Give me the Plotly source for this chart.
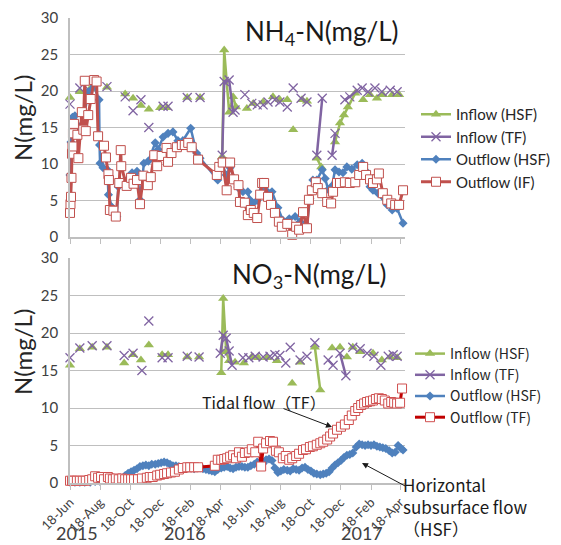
import pandas as pd
import plotly.graph_objects as go

START = pd.Timestamp("2015-06-18")   # day 0 of the monitoring record
END_DAY = 680

# ---------------- NH4-N ----------------
nh4_in_hsf_day = [0, 20, 41, 75, 112, 128, 144, 160, 183, 197, 238, 264,
                  309, 313, 323, 331, 337,
                  359, 372, 392, 412, 426, 441, 453, 471, 481,
                  501, 510,
                  538, 548, 556, 564, 579,
                  595, 609, 623, 635, 654, 668]
nh4_in_hsf = [19.1, 19.9, 20.3, 20.5, 19.6, 19.0, 18.0, 17.5, 17.7, 17.7, 19.1, 19.1,
              11.0, 25.6, 17.1, 19.2, 17.8,
              17.6, 18.3, 18.5, 19.2, 18.8, 18.8, 14.7, 18.8, 18.6,
              10.8, 9.6,
              13.0, 15.6, 16.7, 17.8, 19.7,
              18.8, 19.5, 19.0, 19.5, 19.5, 19.5]
nh4_in_hsf_runs = [(309, 337), (501, 510), (538, 579)]

nh4_in_tf_day = [0, 20, 37, 75, 112, 128, 144, 160, 189, 199, 238, 264,
                 309, 313, 323, 331, 335,
                 355, 369, 380, 392, 402, 416, 426, 441, 453, 469, 481,
                 501, 512,
                 532, 538,
                 558, 568, 583,
                 593, 605, 619, 633, 650, 664]
nh4_in_tf = [18.2, 20.4, 20.2, 20.6, 19.2, 17.3, 18.8, 15.0, 17.9, 17.9, 19.1, 19.1,
             11.2, 21.3, 21.5, 17.1, 17.4,
             19.5, 18.3, 18.1, 18.1, 18.5, 18.8, 18.5, 17.8, 20.4, 19.0, 18.5,
             11.2, 19.0,
             11.2, 14.2,
             18.8, 19.2, 20.1,
             20.4, 19.9, 20.4, 19.9, 20.1, 19.9]
nh4_in_tf_runs = [(309, 335), (501, 512), (532, 538), (558, 583)]

nh4_out_hsf_day = [0, 2, 5, 10, 20, 26, 37, 47, 59, 60, 61, 67, 76, 78, 85, 95, 98,
                   106, 116, 126, 136, 142, 150, 159, 173, 179, 189, 199, 209, 219,
                   229, 245, 257, 264, 298, 300, 309, 317, 325, 333, 341, 351, 361,
                   365, 371, 380, 390, 396, 410, 422, 432, 445, 457, 467, 481, 487,
                   493, 501, 512, 518, 524, 532, 538, 546, 554, 562, 572, 583, 593,
                   601, 609, 615, 625, 635, 644, 654, 664, 676]
nh4_out_hsf = [8.5, 13.0, 16.4, 16.6, 14.7, 15.5, 19.9, 21.0, 18.8, 12.6, 10.1, 9.5,
               9.2, 5.8, 4.1, 2.8, 6.9, 7.5, 7.8, 8.8, 9.0, 5.1, 10.1, 10.4, 12.9,
               12.0, 13.7, 14.2, 14.4, 13.2, 13.2, 14.9, 11.5, 10.8, 8.0, 7.8, 10.0,
               8.5, 9.5, 8.0, 6.8, 6.2, 6.2, 5.1, 4.6, 5.0, 7.5, 6.5, 6.2, 4.0, 2.3,
               2.5, 2.8, 2.1, 1.6, 5.3, 7.8, 7.8, 9.2, 8.0, 6.5, 7.0, 9.2, 8.9, 8.8,
               9.6, 9.3, 9.9, 10.1, 9.0, 6.9, 6.4, 6.0, 5.5, 4.4, 3.7, 3.9, 1.9]

nh4_out_tf_day = [0, 1, 2, 3, 4, 5, 6, 8, 15, 17, 24, 27, 30, 32, 37, 42, 49, 54, 57,
                  69, 73, 78, 79, 81, 88, 93, 100, 103, 104, 115, 124, 129, 136, 142,
                  149, 158, 164, 171, 177, 186, 196, 199, 206, 217, 227, 233, 240,
                  247, 260, 298, 303, 310, 318, 325, 333, 342, 345, 355, 361, 367,
                  373, 380, 386, 390, 394, 402, 408, 416, 424, 430, 441, 451, 459,
                  465, 473, 481, 485, 491, 499, 503, 512, 522, 530, 534, 542, 548,
                  558, 568, 579, 587, 595, 601, 609, 615, 623, 627, 635, 644, 652,
                  660, 668, 676]
nh4_out_tf = [3.3, 4.5, 5.5, 8.1, 11.4, 12.4, 14.2, 15.5, 14.0, 10.8, 17.1, 14.7, 21.4,
              14.5, 16.7, 18.9, 21.5, 21.3, 13.8, 12.5, 10.9, 8.6, 7.8, 3.7, 3.6, 2.8,
              7.4, 11.9, 9.7, 7.0, 8.1, 7.3, 7.8, 4.5, 8.4, 7.1, 8.2, 11.2, 9.7, 11.1,
              12.2, 10.3, 11.5, 12.3, 12.6, 12.6, 12.9, 12.3, 10.6, 8.5, 9.6, 10.2,
              6.4, 10.2, 7.9, 7.1, 4.8, 4.7, 3.0, 3.7, 3.3, 2.6, 5.8, 7.4, 7.4, 5.5,
              4.4, 3.3, 2.1, 1.4, 1.8, 0.3, 1.4, 1.0, 3.4, 1.2, 5.1, 6.4, 7.5, 6.7,
              6.0, 4.8, 4.6, 6.2, 7.4, 7.4, 7.5, 7.4, 7.5, 8.5, 9.6, 8.5, 7.9, 7.4,
              7.9, 8.7, 6.0, 5.1, 4.6, 4.4, 4.4, 6.4]

# ---------------- NO3-N ----------------
no3_in_hsf_day = [0, 20, 45, 75, 110, 128, 144, 160, 187, 199, 238, 262,
                  307, 311, 317, 323,
                  335, 353, 369, 382, 400, 420, 451, 467,
                  497, 508,
                  532, 548, 562, 574, 589, 615, 633, 650, 664]
no3_in_hsf = [15.7, 17.9, 18.1, 18.1, 16.0, 17.1, 16.4, 18.4, 17.1, 17.1, 16.8, 16.8,
              14.7, 24.6, 17.5, 16.3,
              16.1, 16.0, 16.8, 16.7, 16.7, 16.3, 13.3, 16.1,
              18.1, 12.4,
              18.0, 18.1, 16.8, 18.1, 17.5, 17.3, 16.4, 16.8, 16.7]
no3_in_hsf_runs = [(307, 323), (497, 508)]

no3_in_tf_day = [0, 20, 45, 75, 110, 128, 146, 160, 187, 199, 238, 262,
                 305, 311, 317, 323, 329,
                 351, 363, 376, 392, 406, 416, 426, 438, 447, 467, 481, 497,
                 524, 534,
                 548, 560,
                 574, 589, 603, 617, 631, 646, 656, 664]
no3_in_tf = [16.7, 18.0, 18.3, 18.3, 17.0, 17.3, 15.0, 21.6, 16.7, 16.7, 16.9, 16.8,
             17.3, 19.7, 19.3, 17.6, 15.7,
             16.7, 16.7, 16.9, 16.8, 16.9, 17.1, 17.0, 16.0, 18.1, 16.4, 16.9, 18.7,
             16.4, 15.7,
             17.3, 14.3,
             18.1, 17.9, 17.3, 16.9, 15.7, 16.9, 17.1, 16.9]
no3_in_tf_runs = [(305, 329), (524, 534), (548, 560)]

no3_out_hsf_day = [0, 10, 20, 30, 41, 51, 61, 71, 81, 91, 102, 112, 118, 124, 130,
                   136, 142, 148, 154, 160, 166, 173, 179, 185, 191, 197, 203, 209,
                   215, 221, 227, 233, 240, 246, 252, 258, 264, 270, 276, 282, 288,
                   294, 300, 307, 313, 319, 325, 331, 337, 343, 349, 355, 361, 367,
                   374, 380, 386, 392, 398, 404, 410, 416, 422, 428, 434, 441, 447,
                   453, 459, 465, 471, 477, 483, 489, 495, 501, 508, 514, 520, 526,
                   532, 538, 544, 550, 556, 562, 568, 574, 581, 587, 593, 599, 605,
                   611, 617, 623, 629, 635, 641, 648, 654, 660, 666, 672, 676]
no3_out_hsf = [0.1, 0.1, 0.1, 0.1, 0.1, 0.2, 0.2, 0.3, 0.4, 0.5, 0.7, 1.0, 1.3, 1.5,
               1.7, 1.9, 2.2, 2.3, 2.4, 2.3, 2.5, 2.5, 2.6, 2.7, 2.8, 2.7, 2.5, 2.3,
               2.3, 2.2, 2.0, 2.1, 2.0, 2.0, 1.9, 2.0, 2.0, 1.9, 1.8, 1.7, 1.6, 1.5,
               1.8, 2.0, 2.1, 2.2, 2.0, 1.9, 2.1, 2.2, 2.2, 2.1, 2.1, 2.3, 2.5, 2.8,
               2.7, 2.6, 3.1, 3.2, 3.0, 2.0, 1.4, 1.6, 1.8, 1.7, 1.6, 1.9, 1.8, 1.7,
               2.0, 2.1, 1.8, 1.6, 1.3, 1.2, 1.1, 1.2, 1.3, 1.5, 2.0, 2.4, 2.7, 3.0,
               3.4, 3.7, 3.8, 4.0, 4.8, 5.2, 5.1, 5.0, 5.1, 5.0, 5.1, 4.9, 4.8, 4.7,
               4.6, 4.3, 4.0, 4.1, 5.0, 4.6, 4.4]

no3_out_tf_day = [0, 4, 8, 14, 20, 26, 32, 39, 45, 51, 57, 63, 69, 77, 81, 87, 93, 99,
                  106, 112, 118, 124, 130, 138, 146, 156, 162, 168, 177, 183, 191,
                  197, 205, 213, 221, 229, 238, 244, 252, 260, 294, 300, 307, 313,
                  319, 325, 331, 337, 343, 349, 355, 363, 369, 376, 382, 388, 392,
                  398, 406, 412, 418, 424, 432, 438, 445, 451, 459, 465, 473, 479,
                  487, 493, 501, 508, 514, 522, 528, 534, 542, 550, 558, 566, 572,
                  579, 585, 591, 597, 603, 609, 615, 621, 627, 633, 639, 646, 652,
                  658, 664, 670, 674]
no3_out_tf = [0.3, 0.3, 0.3, 0.3, 0.3, 0.3, 0.3, 0.4, 0.5, 0.9, 0.7, 0.8, 0.5, 0.8,
              0.6, 0.5, 0.6, 0.5, 0.6, 0.5, 0.5, 0.5, 0.5, 0.5, 0.6, 0.7, 0.8, 0.8,
              1.0, 1.1, 1.2, 1.3, 1.4, 1.5, 1.8, 2.0, 2.1, 2.1, 2.1, 2.1, 2.3, 3.1,
              3.1, 3.2, 3.3, 3.5, 3.7, 3.3, 4.1, 3.5, 4.0, 4.1, 4.5, 4.1, 5.5, 2.2,
              4.6, 5.3, 5.6, 5.5, 4.3, 4.1, 3.3, 3.6, 3.1, 3.3, 3.6, 3.9, 4.4, 4.5,
              4.8, 4.9, 5.1, 5.3, 5.5, 5.8, 6.2, 6.6, 7.1, 7.5, 7.8, 8.4, 9.0, 9.6,
              10.0, 10.4, 10.6, 10.8, 10.9, 11.0, 11.2, 11.3, 11.2, 11.0, 10.6,
              10.8, 10.7, 10.6, 10.7, 12.6]

TICK_DATES = ["2015-06-18", "2015-08-18", "2015-10-18", "2015-12-18", "2016-02-18",
              "2016-04-18", "2016-06-18", "2016-08-18", "2016-10-18", "2016-12-18",
              "2017-02-18", "2017-04-18"]
TICK_TEXT = ["18-Jun", "18-Aug", "18-Oct", "18-Dec", "18-Feb", "18-Apr",
             "18-Jun", "18-Aug", "18-Oct", "18-Dec", "18-Feb", "18-Apr"]
YEARS = ["2015", "2016", "2017"]
YEAR_POS = [0.137, 0.330, 0.645]


def to_date(d):
    return START + pd.Timedelta(days=d)


def series(days, vals, runs=None):
    """Dates/values; samples outside a consecutive run are left unconnected."""
    if runs is None:
        return [to_date(d) for d in days], list(vals)

    def run_of(d):
        for i, (a, b) in enumerate(runs):
            if a <= d <= b:
                return i
        return None

    xs, ys, prev = [], [], None
    for d, v in zip(days, vals):
        if prev is not None:
            r0, r1 = run_of(prev), run_of(d)
            if r0 is None or r0 != r1:
                xs.append(to_date((prev + d) / 2))
                ys.append(None)
        xs.append(to_date(d))
        ys.append(v)
        prev = d
    return xs, ys


GREEN, PURPLE, BLUE = "#9bbb59", "#8064a2", "#4f81bd"

fig = go.Figure()


def add_panel(xa, ya, leg, data, red_line, red_edge, out_tf_name):
    (ih_d, ih_v, ih_r), (it_d, it_v, it_r), (oh_d, oh_v), (ot_d, ot_v) = data
    x, y = series(ih_d, ih_v, ih_r)
    fig.add_trace(go.Scatter(x=x, y=y, name="Inflow (HSF)", mode="lines+markers",
                             line=dict(color=GREEN, width=2.5),
                             marker=dict(symbol="triangle-up", size=9, color=GREEN),
                             xaxis=xa, yaxis=ya, legend=leg, cliponaxis=False))
    x, y = series(it_d, it_v, it_r)
    fig.add_trace(go.Scatter(x=x, y=y, name="Inflow (TF)", mode="lines+markers",
                             line=dict(color=PURPLE, width=2.5),
                             marker=dict(symbol="x-thin", size=9,
                                         line=dict(color=PURPLE, width=1.3)),
                             xaxis=xa, yaxis=ya, legend=leg, cliponaxis=False))
    x, y = series(oh_d, oh_v)
    fig.add_trace(go.Scatter(x=x, y=y, name="Outflow (HSF)", mode="lines+markers",
                             line=dict(color=BLUE, width=2.5),
                             marker=dict(symbol="diamond", size=7, color=BLUE),
                             xaxis=xa, yaxis=ya, legend=leg, cliponaxis=False))
    x, y = series(ot_d, ot_v)
    fig.add_trace(go.Scatter(x=x, y=y, name=out_tf_name, mode="lines+markers",
                             line=dict(color=red_line, width=3),
                             marker=dict(symbol="square", size=9, color="white",
                                         line=dict(color=red_edge, width=1)),
                             xaxis=xa, yaxis=ya, legend=leg, cliponaxis=False))


add_panel("x", "y", "legend",
          [(nh4_in_hsf_day, nh4_in_hsf, nh4_in_hsf_runs),
           (nh4_in_tf_day, nh4_in_tf, nh4_in_tf_runs),
           (nh4_out_hsf_day, nh4_out_hsf),
           (nh4_out_tf_day, nh4_out_tf)],
          "#c0504d", "#c0504d", "Outflow (IF)")
add_panel("x2", "y2", "legend2",
          [(no3_in_hsf_day, no3_in_hsf, no3_in_hsf_runs),
           (no3_in_tf_day, no3_in_tf, no3_in_tf_runs),
           (no3_out_hsf_day, no3_out_hsf),
           (no3_out_tf_day, no3_out_tf)],
          "#c00000", "#d05050", "Outflow (TF)")

GRID = "#bfbfbf"
XDOM = [70 / 561, 405 / 561]
xcommon = dict(type="date", range=[to_date(0), to_date(END_DAY)], domain=XDOM,
               tickvals=TICK_DATES, ticktext=TICK_TEXT, showgrid=False,
               showline=True, linecolor=GRID, linewidth=1.5, automargin=False,
               ticks="outside", ticklen=5, tickcolor=GRID, tickwidth=1)
ycommon = dict(range=[0, 30], tickvals=[0, 5, 10, 15, 20, 25, 30], showgrid=True,
               gridcolor=GRID, gridwidth=1, showline=True, linecolor=GRID,
               linewidth=1.5, zeroline=False, ticks="", ticklabelstandoff=7,
               automargin=False,
               tickfont=dict(family="Lato", size=15, color="#404040"))

fig.update_layout(
    width=561, height=545, margin=dict(l=0, r=0, t=0, b=0),
    paper_bgcolor="white", plot_bgcolor="white",
    xaxis=dict(xcommon, anchor="y", showticklabels=False),
    yaxis=dict(ycommon, domain=[1 - 237 / 545, 1 - 18 / 545], anchor="x"),
    xaxis2=dict(xcommon, anchor="y2", matches="x", tickangle=-45,
                tickfont=dict(family="Lato", size=13, color="#404040")),
    yaxis2=dict(ycommon, domain=[1 - 483 / 545, 1 - 258 / 545], anchor="x2"),
    legend=dict(x=416 / 561, y=1 - 98 / 545, xanchor="left", yanchor="top",
                bgcolor="rgba(0,0,0,0)", itemwidth=30,
                font=dict(family="Lato", size=15, color="#262626")),
    legend2=dict(x=410 / 561, y=1 - 338 / 545, xanchor="left", yanchor="top",
                 bgcolor="rgba(0,0,0,0)", itemwidth=30,
                 font=dict(family="Noto Sans CJK JP", size=14, color="#262626")),
)

ann = []
ann.append(dict(text="NH<sub>4</sub>-N(mg/L)", x=400 / 561, y=1 - 32 / 545,
                xanchor="right", yanchor="middle", showarrow=False,
                font=dict(family="Lato", size=26, color="#1a1a1a")))
ann.append(dict(text="NO<sub>3</sub>-N(mg/L)", x=388 / 561, y=1 - 275 / 545,
                xanchor="right", yanchor="middle", showarrow=False,
                font=dict(family="Lato", size=26, color="#1a1a1a")))
for yc in (118, 352):
    ann.append(dict(text="N(mg/L)", x=22 / 561, y=1 - yc / 545, textangle=-90,
                    xanchor="center", yanchor="middle", showarrow=False,
                    font=dict(family="Lato", size=24, color="#262626")))
for yr, xp in zip(YEARS, YEAR_POS):
    ann.append(dict(text=yr, x=xp, y=1 - 533 / 545, xanchor="center",
                    yanchor="middle", showarrow=False,
                    font=dict(family="Lato", size=18, color="#404040")))
ann.append(dict(text="Tidal flow（TF）", x=200 / 561, y=1 - 402 / 545,
                xanchor="left", yanchor="middle", showarrow=False,
                font=dict(family="Noto Sans CJK JP", size=16, color="#1a1a1a")))
ann.append(dict(x=332 / 561, y=1 - 427 / 545, ax=-50, ay=-19, axref="pixel",
                ayref="pixel", text="", showarrow=True, arrowhead=2,
                arrowsize=1.2, arrowwidth=1, arrowcolor="#1a1a1a"))
ann.append(dict(text="Horizontal<br>subsurface flow<br>（HSF）", x=401 / 561,
                y=1 - 470 / 545, xanchor="left", yanchor="top", align="left",
                showarrow=False,
                font=dict(family="Noto Sans CJK JP", size=17, color="#1a1a1a")))
ann.append(dict(x=362 / 561, y=1 - 463 / 545, ax=45, ay=24, axref="pixel",
                ayref="pixel", text="", showarrow=True, arrowhead=2,
                arrowsize=1.2, arrowwidth=1, arrowcolor="#1a1a1a"))
for a in ann:
    a.setdefault("xref", "paper")
    a.setdefault("yref", "paper")
fig.update_layout(annotations=ann)

fig.write_html("out.html")
